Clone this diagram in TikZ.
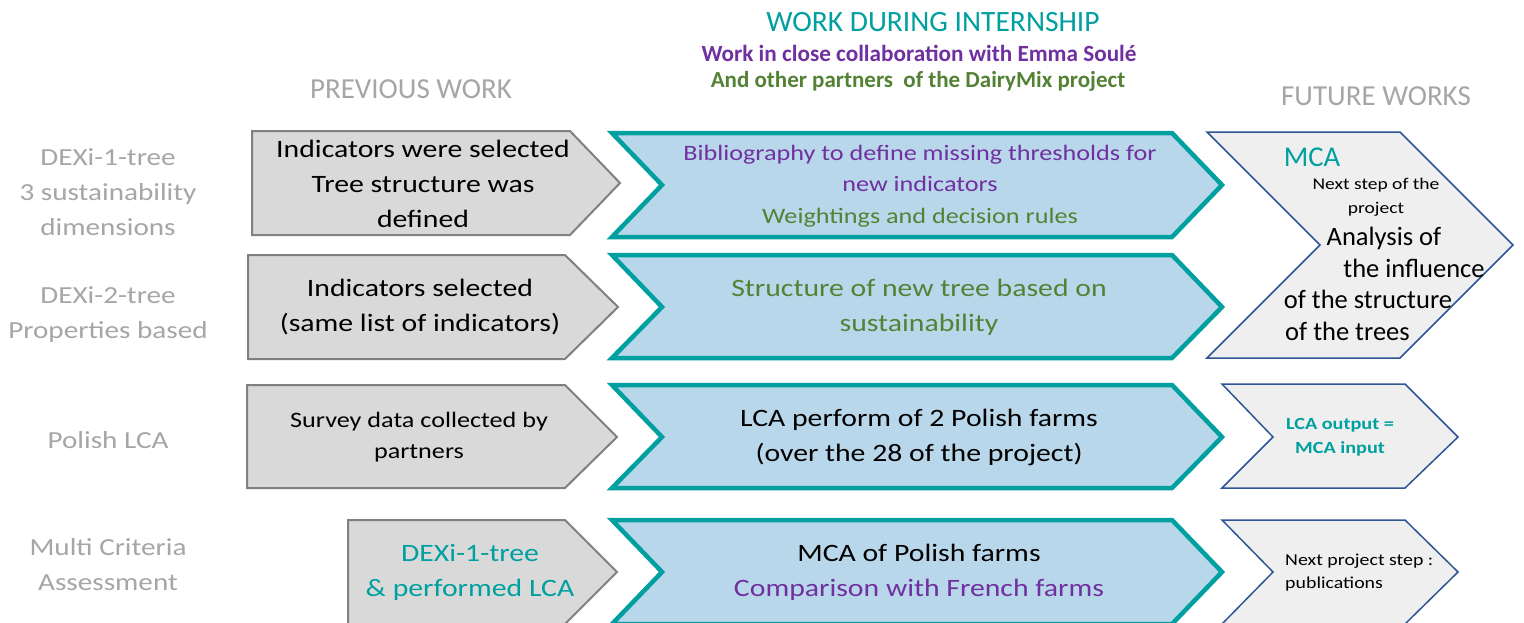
\documentclass[tikz,border=0pt]{standalone}
\usepackage{fontspec}
\setmainfont{Carlito}
\newfontfamily\stf{Carlito}[FakeStretch=1.19]
\definecolor{tealc}{RGB}{0,160,160}
\definecolor{purplec}{RGB}{112,48,160}
\definecolor{greenc}{RGB}{84,130,53}
\definecolor{headgray}{RGB}{166,166,166}
\definecolor{grayfill}{RGB}{217,217,217}
\definecolor{grayline}{RGB}{128,128,128}
\definecolor{bluefill}{RGB}{185,215,234}
\definecolor{futfill}{RGB}{239,239,239}
\definecolor{futline}{RGB}{47,85,151}
\begin{document}
\begin{tikzpicture}[x=1pt,y=-1pt,
  graybox/.style={fill=grayfill,draw=grayline,line width=2pt},
  bluebox/.style={fill=bluefill,draw=tealc,line width=4.5pt,line join=miter},
  futbox/.style={fill=futfill,draw=futline,line width=1.5pt,line join=miter},
  txt/.style={align=center,inner sep=0pt,font=\stf\fontsize{25}{35}\selectfont},
  txtm/.style={align=center,inner sep=0pt,font=\stf\fontsize{22}{31.5}\selectfont},
  lbl/.style={align=center,inner sep=0pt,text=headgray,font=\stf\fontsize{24.5}{35}\selectfont},
  head/.style={inner sep=0pt,text=headgray,font=\fontsize{29}{32}\selectfont},
  futt/.style={inner sep=0pt,font=\fontsize{26.5}{30}\selectfont}]
\useasboundingbox (0,0) rectangle (1524,622);
\fill[white] (0,0) rectangle (1524,622);

% headers
\node[inner sep=0pt,text=tealc,font=\fontsize{29.5}{32}\selectfont] (h1) at (933,22) {WORK DURING INTERNSHIP};
\node[inner sep=0pt,text=purplec,font=\bfseries\fontsize{23.2}{26}\selectfont] (h2) at (919,53) {Work in close collaboration with Emma Soulé};
\node[inner sep=0pt,text=greenc,font=\bfseries\fontsize{23}{26}\selectfont] (h3) at (918,81) {And other partners\ \ of the DairyMix project};
\node[head] (hprev) at (411,89) {PREVIOUS WORK};
\node[head] (hfut) at (1376,96) {FUTURE WORKS};

% left labels
\node[lbl] (l1) at (108,192) {DEXi-1-tree\\3 sustainability\\dimensions};
\node[lbl] (l2) at (108,315) {DEXi-2-tree\\Properties based};
\node[lbl] (l3) at (108,440) {Polish LCA};
\node[lbl] (l4) at (108,565) {Multi Criteria\\Assessment};

% gray boxes
\draw[graybox] (252,131) -- (570,131) -- (620,183) -- (570,235) -- (252,235) -- cycle;
\draw[graybox] (248,255) -- (565,255) -- (618,307) -- (565,359) -- (248,359) -- cycle;
\draw[graybox] (247,385) -- (565,385) -- (617,437) -- (565,488) -- (247,488) -- cycle;
\draw[graybox] (348,520) -- (565,520) -- (617,572) -- (565,624) -- (348,624) -- cycle;

\node[txt] (g1) at (423,184) {Indicators were selected\\Tree structure was\\defined};
\node[txt] (g2) at (420,307) {Indicators selected\\(same list of indicators)};
\node[txtm] (g3) at (419,437) {Survey data collected by\\partners};
\node[txt,text=tealc] (g4) at (470,572) {DEXi-1-tree\\\& performed LCA};

% blue chevrons
\draw[bluebox] (612,133) -- (1172,133) -- (1222,185) -- (1172,237) -- (612,237) -- (662,185) -- cycle;
\draw[bluebox] (612,255) -- (1172,255) -- (1222,307) -- (1172,358) -- (612,358) -- (662,307) -- cycle;
\draw[bluebox] (612,385) -- (1172,385) -- (1222,437) -- (1172,488) -- (612,488) -- (662,437) -- cycle;
\draw[bluebox] (612,520) -- (1172,520) -- (1222,572) -- (1172,624) -- (612,624) -- (662,572) -- cycle;

\node[txtm] (b1) at (920,186) {\textcolor{purplec}{Bibliography to define missing thresholds for}\\\textcolor{purplec}{new indicators}\\\textcolor{greenc}{Weightings and decision rules}};
\node[txt,text=greenc] (b2) at (919,307) {Structure of new tree based on\\sustainability};
\node[txt] (b3) at (919,437) {LCA perform of 2 Polish farms\\(over the 28 of the project)};
\node[txt] (b4) at (919,572) {MCA of Polish farms\\\textcolor{purplec}{Comparison with French farms}};

% future chevrons
\draw[futbox] (1207,132) -- (1400,132) -- (1513,245) -- (1400,358) -- (1207,358) -- (1320,245) -- cycle;
\draw[futbox] (1222,384) -- (1405,384) -- (1458,437) -- (1405,488) -- (1222,488) -- (1273,437) -- cycle;
\draw[futbox] (1222,520) -- (1405,520) -- (1458,572) -- (1405,624) -- (1222,624) -- (1273,572) -- cycle;

\node[inner sep=0pt,text=tealc,font=\fontsize{28.7}{30}\selectfont] (f1a) at (1312,157) {MCA};
\node[align=center,inner sep=0pt,font=\stf\fontsize{16.4}{24}\selectfont] (f1b) at (1376,197) {Next step of the\\project};
\node[futt] (f1c) at (1384,238) {Analysis of};
\node[futt] (f1d) at (1414,268) {the influence};
\node[futt] (f1e) at (1368,299) {of the structure};
\node[futt,anchor=west] (f1f) at (1285,331) {of the trees};
\node[align=center,inner sep=0pt,text=tealc,font=\stf\bfseries\fontsize{17}{24}\selectfont] (f3) at (1340,437) {LCA output =\\MCA input};
\node[align=left,anchor=west,inner sep=0pt,font=\stf\fontsize{16.7}{23}\selectfont] (f4) at (1285,573) {Next project step :\\publications};
\end{tikzpicture}
\end{document}
